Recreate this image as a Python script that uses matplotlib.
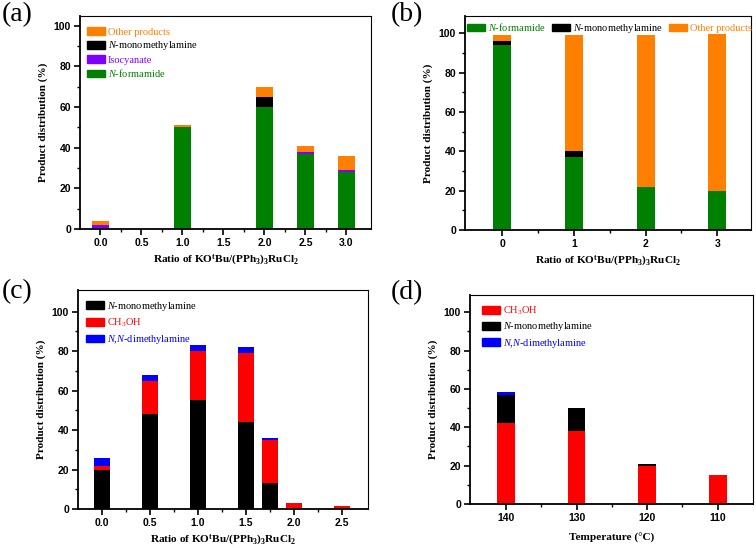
import matplotlib
matplotlib.use('Agg')
import matplotlib.pyplot as plt
from matplotlib.patches import Patch
from matplotlib.ticker import FixedLocator
import numpy as np

plt.rcParams['mathtext.fontset'] = 'custom'
plt.rcParams['mathtext.rm'] = 'Liberation Serif'
plt.rcParams['mathtext.it'] = 'Liberation Serif:italic'
plt.rcParams['mathtext.bf'] = 'Liberation Serif:bold'
plt.rcParams['mathtext.default'] = 'rm'

# ---------------- data ----------------
a_labels = ['0.0', '0.5', '1.0', '1.5', '2.0', '2.5', '3.0']
a_formamide = [0, 0, 50, 0, 60, 37, 28]
a_isocyanate = [2, 0, 0, 0, 0, 1, 1]
a_mono = [0, 0, 0, 0, 5, 0, 0]
a_other = [2, 0, 1, 0, 5, 3, 7]

b_labels = ['0', '1', '2', '3']
b_formamide = [94, 37, 22, 20]
b_mono = [2, 3, 0, 0]
b_other = [3.3, 59.3, 77.3, 79.7]

c_ratio = [0.0, 0.5, 1.0, 1.5, 1.75, 2.0, 2.5]
c_ticks = [0.0, 0.5, 1.0, 1.5, 2.0, 2.5]
c_ticklabels = ['0.0', '0.5', '1.0', '1.5', '2.0', '2.5']
c_mono = [20, 48, 55, 44, 13, 0, 0]
c_meoh = [2, 17, 25, 35, 22, 3, 1.3]
c_dma = [4, 3, 3, 3, 1, 0, 0]

d_labels = ['140', '130', '120', '110']
d_meoh = [42, 38, 20, 15]
d_mono = [15, 12, 1, 0]
d_dma = [1.3, 0, 0, 0]

ORANGE = '#FF8000'
GREEN = '#008000'
PURPLE = '#8000FF'
BLACK = '#000000'
RED = '#FF0000'
BLUE = '#0000FF'

W, H = 756, 548
fig = plt.figure(figsize=(W / 100, H / 100), dpi=100)


def make_ax(l, r, t, b):
    return fig.add_axes([l / W, 1 - b / H, (r - l) / W, (b - t) / H])


TICKFONT = dict(family='Liberation Sans', weight='bold', size=7.5)
LABELFONT = dict(family='Liberation Serif', weight='bold', size=8.1)
LEGFONT = dict(family='Liberation Serif', size=7.5)

xlab_ratio = r'Ratio of KO$^\mathbf{t}$Bu/(PPh$_\mathbf{3}$)$_\mathbf{3}$RuCl$_\mathbf{2}$'


def style(ax, ylim):
    ax.set_ylim(0, ylim)
    for s in ['left', 'bottom']:
        ax.spines[s].set_linewidth(1.3)
    for s in ['top', 'right']:
        ax.spines[s].set_linewidth(0.8)
    ax.yaxis.set_major_locator(FixedLocator([0, 20, 40, 60, 80, 100]))
    ax.yaxis.set_minor_locator(FixedLocator([10, 30, 50, 70, 90]))
    ax.tick_params(which='major', direction='out', length=4, width=1.2, top=False, right=False, pad=2.5)
    ax.tick_params(which='minor', direction='out', length=2.5, width=1.0, top=False, right=False)
    for lab in ax.get_xticklabels() + ax.get_yticklabels():
        lab.set_fontproperties(matplotlib.font_manager.FontProperties(**TICKFONT))
    ax.set_ylabel('Product distribution (%)', fontdict=LABELFONT, labelpad=4)


def legend(ax, handles, labels, colors, anchor, ncol=1, labelspacing=0.25, columnspacing=1.0):
    lg = ax.legend(handles, labels, loc='upper left', bbox_to_anchor=anchor, frameon=False,
                   borderaxespad=0, borderpad=0, ncol=ncol, handlelength=1.7, handleheight=0.75,
                   handletextpad=0.3, labelspacing=labelspacing, columnspacing=columnspacing,
                   prop=matplotlib.font_manager.FontProperties(**LEGFONT))
    for t, c in zip(lg.get_texts(), colors):
        t.set_color(c)
    return lg


# ---------------- (a) ----------------
ax = make_ax(80, 371, 15.7, 229)
xa = np.arange(len(a_labels))
wa = 0.42
bot = np.zeros(len(xa))
for vals, col in [(a_formamide, GREEN), (a_isocyanate, PURPLE), (a_mono, BLACK), (a_other, ORANGE)]:
    ax.bar(xa, vals, wa, bottom=bot, color=col, linewidth=0)
    bot += np.array(vals)
ax.set_xlim(-0.5, 6.6)
ax.set_xticks(xa)
ax.set_xticklabels(a_labels)
ax.xaxis.set_minor_locator(FixedLocator(xa[:-1] + 0.5))
style(ax, 105)
ax.set_xlabel(xlab_ratio, fontdict=LABELFONT, labelpad=3)
legend(ax, [Patch(color=c) for c in [ORANGE, BLACK, PURPLE, GREEN]],
       ['Other products', r'$\mathit{N}$-monomethylamine', 'Isocyanate', r'$\mathit{N}$-formamide'],
       [ORANGE, BLACK, PURPLE, GREEN], (0.024, 0.945))

# ---------------- (b) ----------------
ax = make_ax(465, 751, 15.7, 230)
xb = np.arange(len(b_labels))
wb = 0.25
bot = np.zeros(len(xb))
for vals, col in [(b_formamide, GREEN), (b_mono, BLACK), (b_other, ORANGE)]:
    ax.bar(xb, vals, wb, bottom=bot, color=col, linewidth=0)
    bot += np.array(vals)
ax.set_xlim(-0.52, 3.47)
ax.set_xticks(xb)
ax.set_xticklabels(b_labels)
ax.xaxis.set_minor_locator(FixedLocator(xb[:-1] + 0.5))
style(ax, 109)
ax.set_xlabel(xlab_ratio, fontdict=LABELFONT, labelpad=3)
legend(ax, [Patch(color=c) for c in [GREEN, BLACK, ORANGE]],
       [r'$\mathit{N}$-formamide', r'$\mathit{N}$-monomethylamine', 'Other products'],
       [GREEN, BLACK, ORANGE], (0.008, 0.975), ncol=3, columnspacing=0.6)

# ---------------- (c) ----------------
ax = make_ax(78, 368, 290, 509)
wc = 0.17
bot = np.zeros(len(c_ratio))
for vals, col in [(c_mono, BLACK), (c_meoh, RED), (c_dma, BLUE)]:
    ax.bar(c_ratio, vals, wc, bottom=bot, color=col, linewidth=0)
    bot += np.array(vals)
ax.set_xlim(-0.25, 2.77)
ax.set_xticks(c_ticks)
ax.set_xticklabels(c_ticklabels)
ax.xaxis.set_minor_locator(FixedLocator([0.25, 0.75, 1.25, 1.75, 2.25]))
style(ax, 111)
ax.set_xlabel(xlab_ratio, fontdict=LABELFONT, labelpad=3)
legend(ax, [Patch(color=c) for c in [BLACK, RED, BLUE]],
       [r'$\mathit{N}$-monomethylamine', r'CH$_3$OH', r'$\mathit{N}$,$\mathit{N}$-dimethylamine'],
       [BLACK, RED, BLUE], (0.028, 0.955), labelspacing=0.38)

# ---------------- (d) ----------------
ax = make_ax(470, 753, 295, 504)
xd = np.arange(len(d_labels))
wd = 0.25
bot = np.zeros(len(xd))
for vals, col in [(d_meoh, RED), (d_mono, BLACK), (d_dma, BLUE)]:
    ax.bar(xd, vals, wd, bottom=bot, color=col, linewidth=0)
    bot += np.array(vals)
ax.set_xlim(-0.51, 3.5)
ax.set_xticks(xd)
ax.set_xticklabels(d_labels)
ax.xaxis.set_minor_locator(FixedLocator(xd[:-1] + 0.5))
style(ax, 109)
ax.set_xlabel('Temperature (°C)', fontdict=LABELFONT, labelpad=7)
legend(ax, [Patch(color=c) for c in [RED, BLACK, BLUE]],
       [r'CH$_3$OH', r'$\mathit{N}$-monomethylamine', r'$\mathit{N}$,$\mathit{N}$-dimethylamine'],
       [RED, BLACK, BLUE], (0.042, 0.955), labelspacing=0.33)

# panel labels
PFONT = dict(family='Liberation Serif', size=20)
fig.text(2 / W, 1 - 15 / H, '(a)', ha='left', va='center', **PFONT)
fig.text(391 / W, 1 - 15 / H, '(b)', ha='left', va='center', **PFONT)
fig.text(2 / W, 1 - 292 / H, '(c)', ha='left', va='center', **PFONT)
fig.text(391 / W, 1 - 293 / H, '(d)', ha='left', va='center', **PFONT)

fig.savefig('out.png', dpi=100)
